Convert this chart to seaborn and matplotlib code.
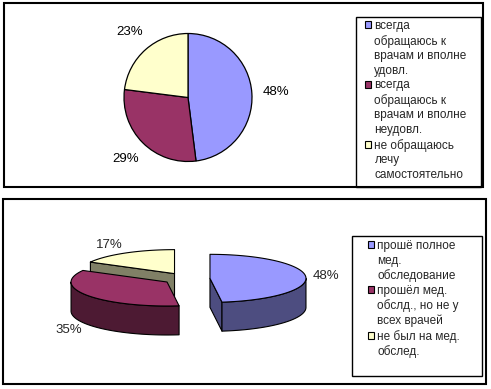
import numpy as np
import matplotlib
matplotlib.use("Agg")
import matplotlib.pyplot as plt
from matplotlib.patches import Patch, Polygon, Rectangle
import seaborn as sns

# ---------------- data ----------------
top_labels = [
    "всегда\nобращаюсь к\nврачам и вполне\nудовл.",
    "всегда\nобращаюсь к\nврачам и вполне\nнеудовл.",
    "не обращаюсь\nлечу\nсамостоятельно",
]
top_values = [48, 29, 23]

bottom_labels = [
    "прошё полное\nмед.\nобследование",
    "прошёл мед.\nобслд., но не у\nвсех врачей",
    "не был на мед.\nобслед.",
]
bottom_values = [48, 35, 17]

face_colors = ["#9999FF", "#993366", "#FFFFCC"]
side_colors = ["#4D4D80", "#4D1A33", "#808066"]

# ---------------- style ----------------
sns.set_style("white")
plt.rcParams["font.family"] = ["Liberation Sans", "DejaVu Sans"]

W, H = 491, 389
fig = plt.figure(figsize=(W / 100, H / 100), dpi=100)
ax = fig.add_axes([0, 0, 1, 1])


def py(y):
    return H - y


# ---------------- top pie ----------------
wedges, texts, autotexts = ax.pie(
    top_values, colors=face_colors, startangle=90, counterclock=False,
    center=(188, py(97.5)), radius=64, autopct="%1.0f%%", pctdistance=1.37,
    wedgeprops=dict(edgecolor="black", linewidth=0.9),
    textprops=dict(fontsize=9.5, color="black"),
)

# ---------------- bottom 3D exploded pie ----------------
def pie3d(ax, values, colors, sides, center, rx, ry, depth, explode, startangle=90):
    total = float(sum(values))
    cum = np.concatenate([[0], np.cumsum(values)]) / total * 360.0
    items = []
    for i, v in enumerate(values):
        hi = startangle - cum[i]
        lo = startangle - cum[i + 1]
        mid = np.radians((hi + lo) / 2)
        cx = center[0] + explode * rx * np.cos(mid)
        cy = center[1] + explode * ry * np.sin(mid)
        items.append((cy, i, lo, hi, mid, cx))
    items.sort(key=lambda t: -t[0])

    def pt(cx, cy, th, dz=0.0):
        return (cx + rx * np.cos(th), cy + ry * np.sin(th) - dz)

    for cy, i, lo, hi, mid, cx in items:
        lor, hir = np.radians(lo), np.radians(hi)
        kw = dict(edgecolor="black", linewidth=0.8, joinstyle="round")
        # cut faces
        for ang, vis in ((hir, np.cos(hir) < -1e-6), (lor, np.cos(lor) > 1e-6)):
            if vis:
                e = pt(cx, cy, ang)
                quad = [(cx, cy), e, (e[0], e[1] - depth), (cx, cy - depth)]
                ax.add_patch(Polygon(quad, closed=True, facecolor=sides[i], **kw))
        # outer curved side (front half: sin < 0)
        for k in range(-2, 3):
            a = max(lor, np.radians(-180 + 360 * k))
            b = min(hir, np.radians(360 * k))
            if b > a:
                t = np.linspace(a, b, 120)
                top = [pt(cx, cy, th) for th in t]
                bot = [pt(cx, cy, th, depth) for th in t[::-1]]
                ax.add_patch(Polygon(top + bot, closed=True, facecolor=sides[i], **kw))
        # top face
        t = np.linspace(lor, hir, 200)
        poly = [(cx, cy)] + [pt(cx, cy, th) for th in t]
        ax.add_patch(Polygon(poly, closed=True, facecolor=colors[i], **kw))
        # label
        c, s = np.cos(mid), np.sin(mid)
        lx = cx + 1.07 * rx * c
        ly = cy + 1.4 * ry * s - (depth if s < 0 else 0)
        ax.text(lx, ly, f"{values[i] / total * 100:.0f}%", fontsize=9.5,
                ha="left" if c > 0 else "right", va="center")


pie3d(ax, bottom_values, face_colors, side_colors,
      center=(186.5, py(278.7)), rx=96, ry=24, depth=29, explode=0.245)

ax.set_xlim(0, W)
ax.set_ylim(0, H)
ax.set_aspect("auto")
ax.axis("off")

# ---------------- panel frames & legend boxes ----------------
def box(x0, y0, x1, y1, lw):
    ax.add_patch(Rectangle((x0, py(y1)), x1 - x0, y1 - y0, fill=False,
                           edgecolor="black", linewidth=lw, zorder=5))

box(4, 3.3, 483, 187.3, 1.5)
box(3, 199.3, 486, 383.7, 1.5)
box(356, 17, 481, 187.3, 1.0)
box(352, 235.7, 482, 376, 1.0)


def make_legend(labels, anchor):
    hs, ls = [], []
    for lab, col in zip(labels, face_colors):
        lines = lab.split("\n")
        hs.append(Patch(facecolor=col, edgecolor="black", linewidth=0.8))
        ls.append(lines[0])
        for l in lines[1:]:
            hs.append(Patch(facecolor="none", edgecolor="none"))
            ls.append(l)
    leg = ax.legend(hs, ls, loc="upper left", bbox_to_anchor=anchor,
                    bbox_transform=ax.transData, frameon=False, fontsize=8.5,
                    handlelength=0.5, handleheight=0.5, handletextpad=0.3,
                    labelspacing=0.22, borderpad=0, borderaxespad=0)
    return leg


leg1 = make_legend(top_labels, (365, py(20)))
ax.add_artist(leg1)
leg2 = make_legend(bottom_labels, (368, py(240)))

fig.savefig("out.png", dpi=100)
